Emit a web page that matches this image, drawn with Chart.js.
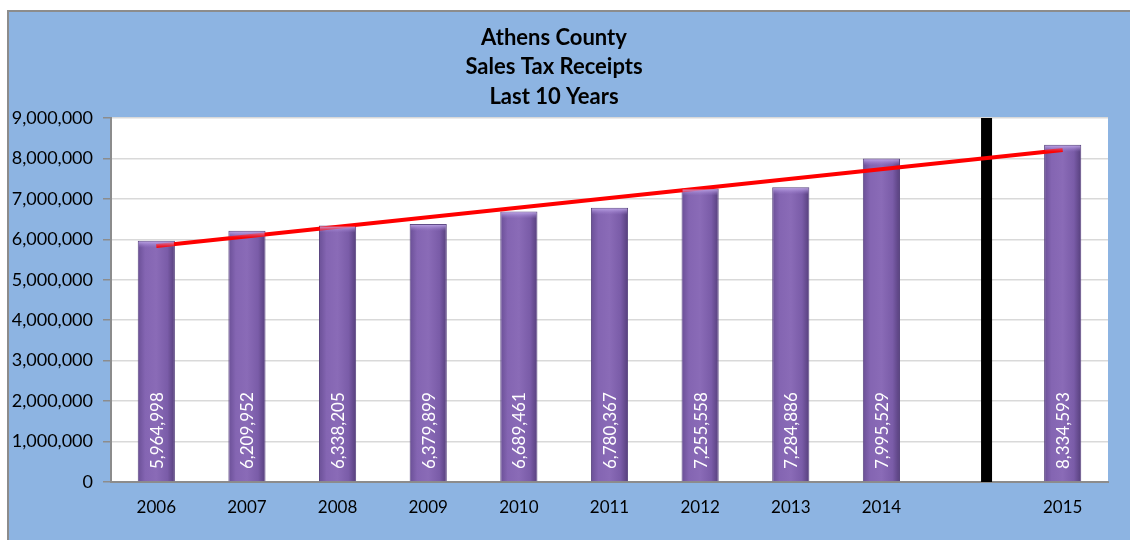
<!DOCTYPE html>
<html lang="en">
<head>
<meta charset="UTF-8">
<title>Athens County Sales Tax Receipts</title>
<script src="https://cdn.jsdelivr.net/npm/chart.js"></script>
<style>
    * { margin: 0; padding: 0; box-sizing: border-box; }
    html, body { overflow: hidden; }
    body { background: #ffffff; width: 1130px; height: 540px; position: relative; }
    .frame {
        position: absolute;
        left: 7px;
        top: 10px;
        width: 1200px;
        height: 600px;
        background: #8DB4E2;
        border-left: 2px solid #8c8c8c;
        border-top: 2px solid #8c8c8c;
    }
    #taxChart { position: absolute; left: 0; top: 0; }
</style>
</head>
<body>
<div class="frame"></div>
<canvas id="taxChart" width="1130" height="540"></canvas>
<script>
// categories (one empty slot before 2015, where the divider sits)
const years = ['2006', '2007', '2008', '2009', '2010', '2011', '2012', '2013', '2014', '', '2015'];
const receipts = [5964998, 6209952, 6338205, 6379899, 6689461, 6780367, 7255558, 7284886, 7995529, null, 8334593];
// trend line, first and last year only
const trend = [5835000, null, null, null, null, null, null, null, null, null, 8209000];
// divider position on a 0..11 axis, and its height
const dividerX = 9.66;
const dividerTop = 9000000;
const yTicks = [0, 1000000, 2000000, 3000000, 4000000, 5000000, 6000000, 7000000, 8000000, 9000000];

const fmt = v => v.toLocaleString('en-US');

// white plot area behind everything
const plotBackground = {
    id: 'plotBackground',
    beforeDraw(chart) {
        const a = chart.chartArea;
        const ctx = chart.ctx;
        ctx.save();
        ctx.fillStyle = '#ffffff';
        ctx.fillRect(a.left, a.top, a.right - a.left, a.bottom - a.top);
        ctx.restore();
    }
};

// light bevel on top of each bar + rotated value labels
const barLabels = {
    id: 'barLabels',
    afterDatasetsDraw(chart) {
        const meta = chart.getDatasetMeta(0);
        const ctx = chart.ctx;
        ctx.save();
        meta.data.forEach((bar, i) => {
            if (receipts[i] == null) return;
            const w = bar.width;
            const g = ctx.createLinearGradient(0, bar.y, 0, bar.y + 7);
            g.addColorStop(0, 'rgba(200,178,240,0.95)');
            g.addColorStop(1, 'rgba(160,130,210,0)');
            ctx.fillStyle = g;
            ctx.fillRect(bar.x - w / 2 + 1, bar.y + 1, w - 2, 7);
        });
        ctx.font = '17px Lato';
        ctx.fillStyle = '#ffffff';
        ctx.textAlign = 'left';
        ctx.textBaseline = 'middle';
        meta.data.forEach((bar, i) => {
            if (receipts[i] == null) return;
            ctx.save();
            ctx.translate(bar.x + 1, chart.chartArea.bottom - 13);
            ctx.rotate(-Math.PI / 2);
            ctx.fillText(fmt(receipts[i]), 0, 0);
            ctx.restore();
        });
        ctx.restore();
    }
};

function barFill(context) {
    const chart = context.chart;
    const x = chart.scales.x;
    if (!chart.chartArea || !x) return '#7f60ad';
    const cx = x.getPixelForValue(context.dataIndex);
    const half = (chart.chartArea.right - chart.chartArea.left) / years.length * 0.41 / 2;
    const g = chart.ctx.createLinearGradient(cx - half, 0, cx + half, 0);
    g.addColorStop(0, '#6a4f96');
    g.addColorStop(0.2, '#8465b2');
    g.addColorStop(0.5, '#8a6bb7');
    g.addColorStop(0.8, '#7a5ca8');
    g.addColorStop(1, '#563f7c');
    return g;
}

const ctx = document.getElementById('taxChart').getContext('2d');
new Chart(ctx, {
    type: 'bar',
    data: {
        labels: years,
        datasets: [
            {
                label: 'Sales Tax Receipts',
                data: receipts,
                backgroundColor: barFill,
                borderColor: '#5a4580',
                borderWidth: 1,
                grouped: false,
                categoryPercentage: 1,
                barPercentage: 0.41,
                order: 3
            },
            {
                type: 'line',
                label: 'Trend',
                data: trend,
                spanGaps: true,
                borderColor: '#ff0000',
                borderWidth: 4,
                pointRadius: 0,
                fill: false,
                order: 1
            },
            {
                type: 'line',
                label: 'Divider',
                xAxisID: 'xd',
                data: [{ x: dividerX, y: 0 }, { x: dividerX, y: dividerTop }],
                borderColor: '#000000',
                borderWidth: 11,
                pointRadius: 0,
                fill: false,
                order: 2
            }
        ]
    },
    options: {
        responsive: false,
        animation: false,
        layout: { padding: { left: 0, right: 22, top: 0, bottom: 0 } },
        plugins: {
            legend: { display: false },
            tooltip: { enabled: false },
            title: {
                display: true,
                text: ['Athens County', 'Sales Tax Receipts', 'Last 10 Years'],
                color: '#000000',
                font: { family: 'Lato', size: 22, weight: 'bold', lineHeight: 1.34 },
                padding: { top: 23, bottom: 6.5 }
            }
        },
        scales: {
            x: {
                grid: { display: false, drawTicks: false },
                border: { display: true, color: '#8c8c8c', width: 2 },
                ticks: {
                    color: '#000000',
                    font: { family: 'Lato', size: 17 },
                    padding: 15,
                    maxRotation: 0,
                    autoSkip: false
                },
                afterFit(scale) { scale.height = 58; }
            },
            xd: {
                type: 'linear',
                display: false,
                offset: false,
                grid: { offset: false },
                min: 0,
                max: years.length
            },
            y: {
                min: 0,
                max: 9000000,
                afterBuildTicks(scale) { scale.ticks = yTicks.map(v => ({ value: v })); },
                grid: { color: '#d9d9d9', lineWidth: 1.5, tickColor: '#8c8c8c', tickLength: 8 },
                border: { display: true, color: '#8c8c8c', width: 2 },
                ticks: {
                    color: '#000000',
                    font: { family: 'Lato', size: 18 },
                    padding: 10,
                    callback: v => fmt(v)
                },
                afterFit(scale) { scale.width = 111; }
            }
        }
    },
    plugins: [plotBackground, barLabels]
});
</script>
</body>
</html>
